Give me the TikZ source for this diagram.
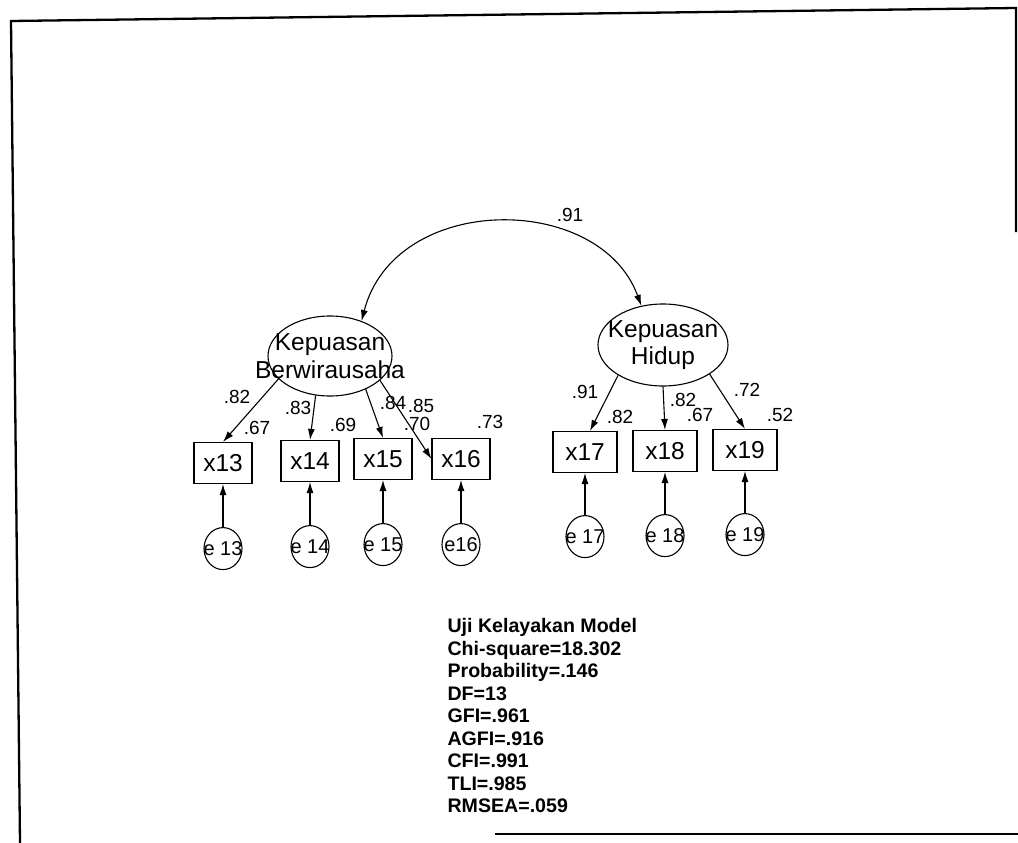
\documentclass[tikz,border=0pt]{standalone}
\usepackage{fontspec}
\setmainfont{Liberation Sans}
\usepackage{tikz}
\usetikzlibrary{arrows.meta, positioning, shapes.geometric}
\newcommand{\varfont}{\fontsize{24.5}{27.5}\selectfont}
\newcommand{\coeffont}{\fontsize{19}{22}\selectfont}
\newcommand{\errfont}{\fontsize{20}{22}\selectfont}
\newcommand{\fitfont}{\fontsize{19.6}{22.5}\selectfont\bfseries}

\begin{document}
\begin{tikzpicture}[x=1pt, y=-1pt, line width=1.1pt,
    latent/.style={ellipse, draw, minimum width=124pt, minimum height=80pt, inner sep=0pt},
    obs/.style={rectangle, draw, minimum width=58pt, minimum height=41pt, inner sep=0pt, font=\varfont},
    err/.style={ellipse, draw, minimum width=38pt, minimum height=42pt, inner sep=0pt},
    coef/.style={font=\coeffont, inner sep=0pt},
    path/.style={-{Latex[length=11pt,width=7pt]}}
]
\useasboundingbox (0,0) rectangle (1018,843);
% frame of the scan
\draw[line width=2.3pt] (20,843) -- (11,21) -- (1016,8) -- (1016,232);
\draw[line width=2.3pt] (495,834) -- (1018,834);

% latent variables
\node[latent, label={[font=\varfont, align=center]center:{Kepuasan\\Berwirausaha}}] (kb) at (330,356) {};
\node[latent, minimum width=130pt, minimum height=82pt,
      label={[font=\varfont, align=center]center:{Kepuasan\\Hidup}}] (kh) at (663,345) {};

% indicators
\node[obs] (x13) at (223,463) {x13};
\node[obs] (x14) at (310,461) {x14};
\node[obs] (x15) at (383,459) {x15};
\node[obs] (x16) at (461,459) {x16};
\node[obs, minimum width=64pt] (x17) at (585,452) {x17};
\node[obs, minimum width=64pt] (x18) at (665,451) {x18};
\node[obs, minimum width=64pt] (x19) at (745,450) {x19};

% error terms
\node[err, below=43pt of x13, label={[font=\errfont]center:e 13}] (e13) {};
\node[err, below=43pt of x14, label={[font=\errfont]center:e 14}] (e14) {};
\node[err, below=43pt of x15, label={[font=\errfont]center:e 15}] (e15) {};
\node[err, below=43pt of x16, label={[font=\errfont]center:e16}] (e16) {};
\node[err, below=42pt of x17, label={[font=\errfont]center:e 17}] (e17) {};
\node[err, below=42pt of x18, label={[font=\errfont]center:e 18}] (e18) {};
\node[err, below=42pt of x19, label={[font=\errfont]center:e 19}] (e19) {};

% paths
\draw[path] (kb.204) -- (x13.north);
\draw[path] (kb.250) -- (x14.north);
\draw[path] (kb.317) -- (x15.north);
\draw[path] (kb.334) -- (x16.west);
\draw[path] (kh.214) -- ([xshift=5pt]x17.north);
\draw[path] (kh.south) -- (x18.north);
\draw[path] (kh.328) -- (x19.north);
\foreach \i in {13,...,19}
  \draw[path] (e\i) -- (x\i);

% covariance
\draw[{Latex[length=11pt,width=7pt]}-{Latex[length=11pt,width=7pt]}]
  (kb.48) .. controls (395,192) and (600,192) .. (kh.119);
\node[coef] (cov) at (570,215) {.91};

% loadings and squared correlations
\node[coef] (w13) at (237,397) {.82};
\node[coef] (r13) at (257,428) {.67};
\node[coef] (w14) at (298,408) {.83};
\node[coef] (r14) at (343,425) {.69};
\node[coef] (w15) at (393,403) {.84};
\node[coef] (w16) at (421,406) {.85};
\node[coef] (r15) at (417,424) {.70};
\node[coef] (r16) at (490,422) {.73};
\node[coef] (w17) at (585,392) {.91};
\node[coef] (r17) at (620,417) {.82};
\node[coef] (w18) at (683,400) {.82};
\node[coef] (r18) at (700,415) {.67};
\node[coef] (w19) at (747,390) {.72};
\node[coef] (r19) at (780,415) {.52};

% model fit
\node[font=\fitfont, align=left, anchor=north west, inner sep=0pt] (fit) at (447,618)
  {Uji Kelayakan Model\\Chi-square=18.302\\Probability=.146\\DF=13\\GFI=.961\\AGFI=.916\\CFI=.991\\TLI=.985\\RMSEA=.059};
\end{tikzpicture}
\end{document}
